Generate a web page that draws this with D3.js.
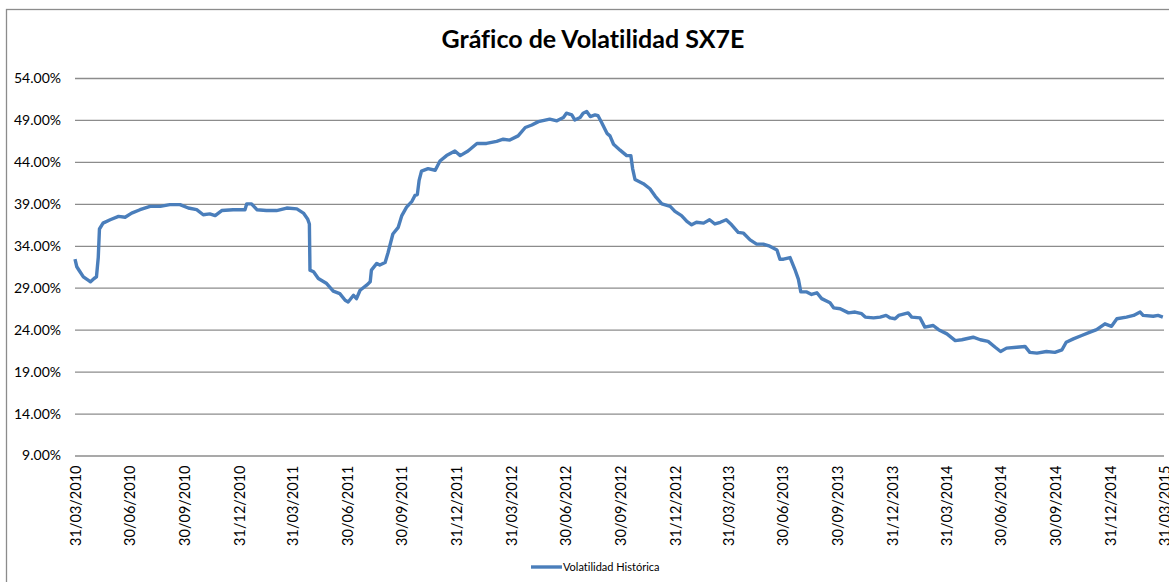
<!DOCTYPE html>
<html lang="es">
<head>
    <meta charset="UTF-8">
    <title>Gráfico de Volatilidad SX7E</title>
    <script src="https://d3js.org/d3.v7.min.js"></script>
    <style>
        body { margin: 0; background: #fff; }
        svg text { font-family: Lato, "Liberation Sans", sans-serif; fill: #000; font-variant-ligatures: none; }
        .grid line { stroke: #8c8c8c; stroke-width: 1.3px; }
        .grid .domain, .axis-x .domain { display: none; }
        .line { fill: none; stroke: #4A7EBB; stroke-width: 3.4px; stroke-linejoin: round; }
    </style>
</head>
<body>
<svg width="1169" height="582"></svg>
<script>
    // Data (date, historical volatility in %)
    const dates = [
        "2010-03-31","2010-04-03","2010-04-07","2010-04-14","2010-04-22","2010-04-26","2010-05-02","2010-05-06","2010-05-09","2010-05-11",
        "2010-05-17","2010-05-29","2010-06-12","2010-06-23","2010-07-04","2010-07-18","2010-08-04","2010-08-21","2010-09-06","2010-09-23",
        "2010-10-07","2010-10-21","2010-11-01","2010-11-12","2010-11-21","2010-12-02","2010-12-21","2011-01-10","2011-01-13","2011-01-21",
        "2011-01-30","2011-02-15","2011-03-04","2011-03-21","2011-04-07","2011-04-18","2011-04-25","2011-04-28","2011-04-29","2011-05-05",
        "2011-05-13","2011-05-27","2011-06-07","2011-06-18","2011-06-27","2011-07-02","2011-07-11","2011-07-16","2011-07-22","2011-08-02",
        "2011-08-08","2011-08-10","2011-08-19","2011-08-24","2011-09-02","2011-09-07","2011-09-15","2011-09-24","2011-09-30","2011-10-08",
        "2011-10-17","2011-10-22","2011-10-26","2011-10-29","2011-11-02","2011-11-13","2011-11-25","2011-12-03","2011-12-14","2011-12-28",
        "2012-01-06","2012-01-19","2012-02-03","2012-02-19","2012-03-07","2012-03-18","2012-03-29","2012-04-12","2012-04-24","2012-05-05",
        "2012-05-16","2012-06-04","2012-06-16","2012-06-27","2012-07-02","2012-07-11","2012-07-16","2012-07-25","2012-07-30","2012-08-05",
        "2012-08-11","2012-08-19","2012-08-24","2012-08-30","2012-09-08","2012-09-13","2012-09-19","2012-09-30","2012-10-11","2012-10-18",
        "2012-10-21","2012-10-25","2012-11-08","2012-11-19","2012-11-28","2012-12-09","2012-12-23","2012-12-31","2013-01-11","2013-01-20",
        "2013-01-28","2013-02-05","2013-02-17","2013-02-27","2013-03-08","2013-03-17","2013-03-27","2013-04-05","2013-04-16","2013-04-25",
        "2013-05-06","2013-05-17","2013-05-28","2013-06-08","2013-06-20","2013-06-25","2013-07-01","2013-07-12","2013-07-20","2013-07-26",
        "2013-07-30","2013-08-09","2013-08-17","2013-08-26","2013-09-03","2013-09-17","2013-09-23","2013-10-04","2013-10-18","2013-10-29",
        "2013-11-09","2013-11-15","2013-11-29","2013-12-10","2013-12-20","2013-12-27","2014-01-04","2014-01-10","2014-01-26","2014-02-01",
        "2014-02-15","2014-02-23","2014-03-09","2014-03-18","2014-04-01","2014-04-15","2014-04-26","2014-05-15","2014-05-27","2014-06-09",
        "2014-06-21","2014-06-30","2014-07-10","2014-07-27","2014-08-10","2014-08-18","2014-08-30","2014-09-15","2014-09-29","2014-10-11",
        "2014-10-18","2014-10-30","2014-11-13","2014-11-27","2014-12-08","2014-12-22","2015-01-02","2015-01-11","2015-01-27","2015-02-08",
        "2015-02-19","2015-02-24","2015-03-13","2015-03-21","2015-03-29"
    ];
    const volatility = [
        32.4, 31.5, 31.05, 30.3, 29.9, 29.7, 30.1, 30.3, 32.6, 36.0,
        36.7, 37.1, 37.5, 37.4, 37.9, 38.3, 38.7, 38.7, 38.9, 38.9,
        38.5, 38.3, 37.7, 37.8, 37.6, 38.2, 38.3, 38.3, 39.0, 39.0,
        38.3, 38.2, 38.2, 38.5, 38.4, 37.9, 37.2, 36.6, 31.1, 30.9,
        30.1, 29.5, 28.6, 28.3, 27.5, 27.3, 28.1, 27.7, 28.7, 29.3,
        29.7, 31.1, 31.9, 31.7, 32.0, 33.2, 35.4, 36.2, 37.6, 38.6,
        39.3, 40.0, 40.1, 41.8, 42.9, 43.2, 43.0, 44.1, 44.75, 45.3,
        44.75, 45.3, 46.2, 46.2, 46.45, 46.7, 46.6, 47.1, 48.1, 48.4,
        48.8, 49.1, 48.9, 49.3, 49.8, 49.6, 49.0, 49.3, 49.8, 50.0,
        49.4, 49.6, 49.5, 48.7, 47.4, 47.1, 46.1, 45.4, 44.75, 44.75,
        43.2, 41.9, 41.4, 40.8, 39.9, 39.0, 38.7, 38.1, 37.6, 36.9,
        36.5, 36.8, 36.7, 37.1, 36.6, 36.8, 37.1, 36.5, 35.6, 35.5,
        34.7, 34.2, 34.2, 33.95, 33.5, 32.4, 32.4, 32.6, 31.2, 30.0,
        28.5, 28.5, 28.2, 28.4, 27.7, 27.2, 26.6, 26.5, 26.0, 26.1,
        25.9, 25.5, 25.4, 25.5, 25.7, 25.4, 25.3, 25.7, 26.0, 25.5,
        25.4, 24.3, 24.5, 24.0, 23.5, 22.7, 22.8, 23.1, 22.8, 22.6,
        21.9, 21.4, 21.8, 21.9, 22.0, 21.3, 21.2, 21.4, 21.3, 21.6,
        22.5, 22.9, 23.3, 23.7, 24.0, 24.7, 24.4, 25.3, 25.5, 25.7,
        26.1, 25.7, 25.6, 25.7, 25.5
    ];

    // Axis ticks
    const xTickLabels = [
        "31/03/2010","30/06/2010","30/09/2010","31/12/2010","31/03/2011","30/06/2011","30/09/2011","31/12/2011",
        "31/03/2012","30/06/2012","30/09/2012","31/12/2012","31/03/2013","30/06/2013","30/09/2013","31/12/2013",
        "31/03/2014","30/06/2014","30/09/2014","31/12/2014","31/03/2015"
    ];
    const yTicks = [9, 14, 19, 24, 29, 34, 39, 44, 49, 54];

    const parseIso = d3.timeParse("%Y-%m-%d");
    const parseLabel = d3.timeParse("%d/%m/%Y");
    const data = dates.map((d, i) => ({ date: parseIso(d), value: volatility[i] }));
    const xTicks = xTickLabels.map(parseLabel);

    const svg = d3.select("svg");
    const plot = { left: 75, right: 1164, top: 78, bottom: 455.5 };

    // chart area border (only top and left are visible in the frame)
    svg.append("rect")
        .attr("x", 6.5).attr("y", 9.5)
        .attr("width", 1200).attr("height", 600)
        .attr("fill", "#fff")
        .attr("stroke", "#8c8c8c")
        .attr("stroke-width", 1.3);

    const x = d3.scaleTime()
        .domain([xTicks[0], xTicks[xTicks.length - 1]])
        .range([plot.left, plot.right]);
    const y = d3.scaleLinear()
        .domain([9, 54])
        .range([plot.bottom, plot.top]);

    // Y grid + labels
    const yAxis = svg.append("g")
        .attr("class", "grid")
        .attr("transform", "translate(" + plot.left + ",0)")
        .call(d3.axisLeft(y)
            .tickValues(yTicks)
            .tickSize(-(plot.right - plot.left))
            .tickPadding(14)
            .tickFormat(d => d3.format(".2f")(d) + "%"));
    yAxis.selectAll("text")
        .style("font-size", "14px");

    // X axis labels, rotated
    const xAxis = svg.append("g")
        .attr("class", "axis-x")
        .attr("transform", "translate(0," + plot.bottom + ")")
        .call(d3.axisBottom(x)
            .tickValues(xTicks)
            .tickSize(0)
            .tickFormat(d3.timeFormat("%d/%m/%Y")));
    xAxis.selectAll("text")
        .style("font-size", "14.5px")
        .style("text-anchor", "end")
        .attr("transform", "rotate(-90)")
        .attr("x", -10)
        .attr("y", 0)
        .attr("dy", "0.35em");

    // the line
    svg.append("path")
        .datum(data)
        .attr("class", "line")
        .attr("d", d3.line()
            .x(d => x(d.date))
            .y(d => y(d.value)));

    // Title
    svg.append("text")
        .attr("x", 593)
        .attr("y", 48)
        .attr("text-anchor", "middle")
        .style("font-size", "25px")
        .style("font-weight", "bold")
        .text("Gráfico de Volatilidad SX7E");

    // Legend
    svg.append("line")
        .attr("x1", 531).attr("x2", 562)
        .attr("y1", 567).attr("y2", 567)
        .attr("stroke", "#4A7EBB")
        .attr("stroke-width", 3.4);
    svg.append("text")
        .attr("x", 563)
        .attr("y", 571)
        .style("font-size", "11px")
        .text("Volatilidad Histórica");
</script>
</body>
</html>
